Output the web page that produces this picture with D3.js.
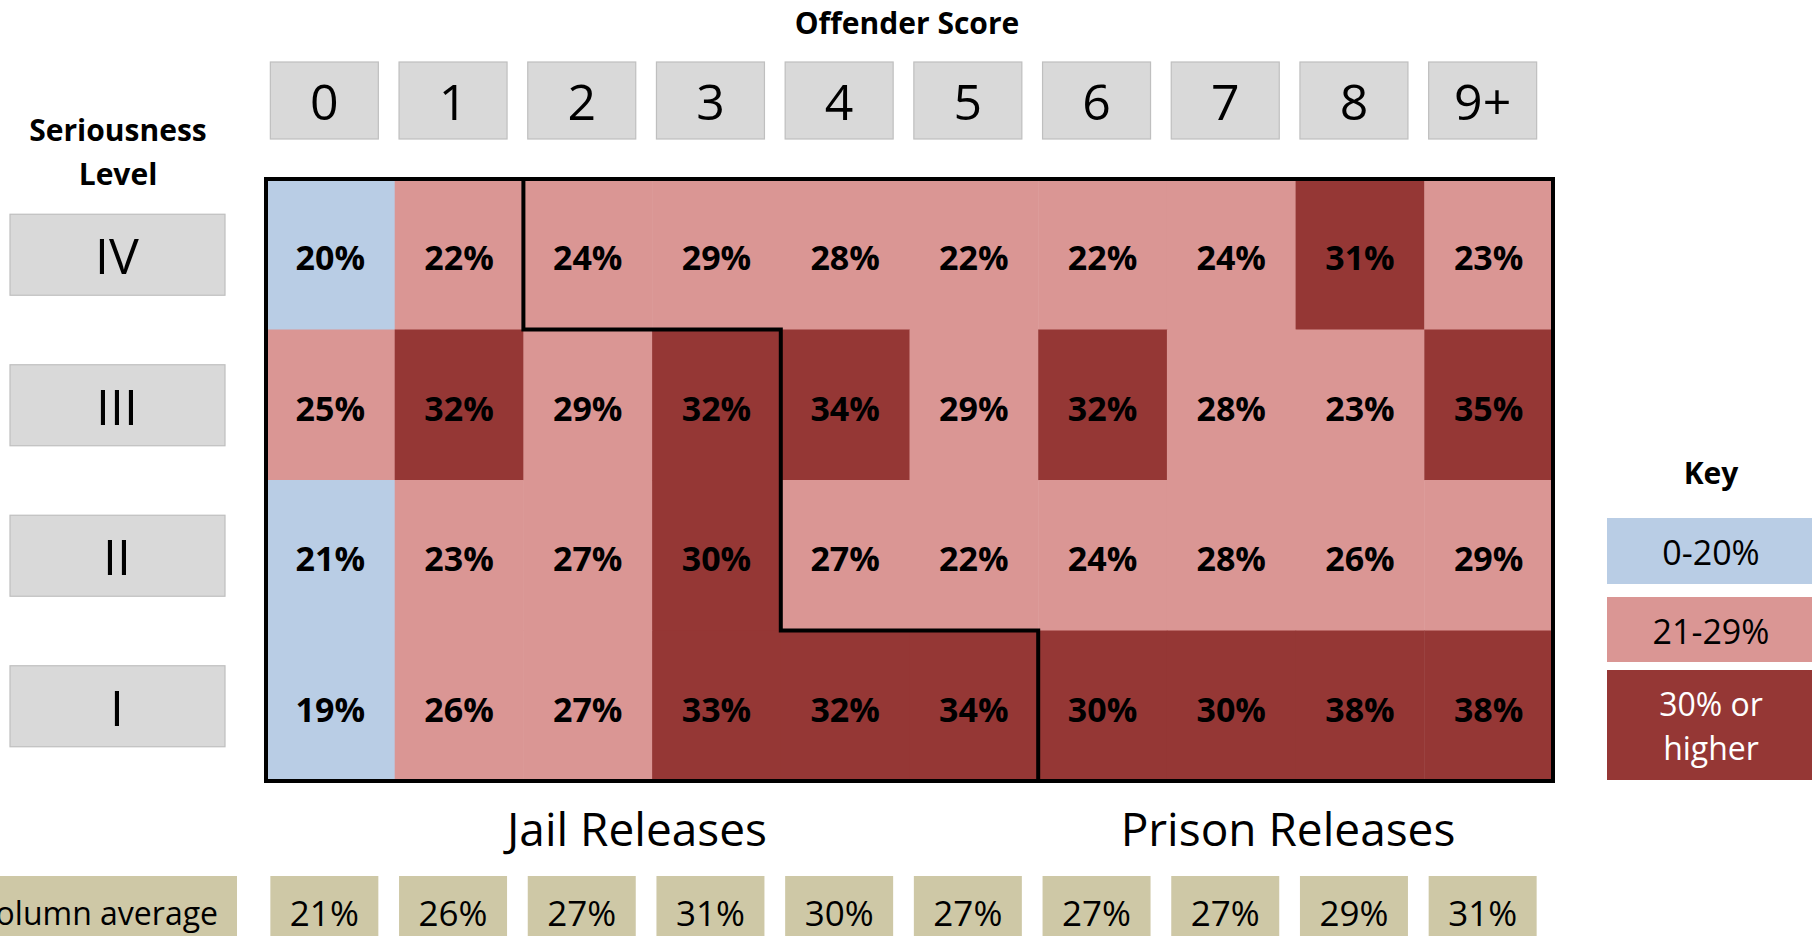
<!DOCTYPE html>
<html><head><meta charset="utf-8">
<script src="https://cdn.jsdelivr.net/npm/d3@7"></script>
<style>
html,body{margin:0;padding:0;background:#fff;overflow:hidden;}
svg{display:block;}
text{font-family:"Open Sans",sans-serif;}
</style></head>
<body>
<svg id="chart" width="1812" height="936"></svg>
<script>
// ---- data ----
const offenderScores = ["0","1","2","3","4","5","6","7","8","9+"];
const seriousnessLevels = ["IV","III","II","I"];
const rowIV  = [20,22,24,29,28,22,22,24,31,23];
const rowIII = [25,32,29,32,34,29,32,28,23,35];
const rowII  = [21,23,27,30,27,22,24,28,26,29];
const rowI   = [19,26,27,33,32,34,30,30,38,38];
// colour band of each cell as shown (0 = 0-20%, 1 = 21-29%, 2 = 30% or higher)
const bandIV  = [0,1,1,1,1,1,1,1,2,1];
const bandIII = [1,2,1,2,2,1,2,1,1,2];
const bandII  = [0,1,1,2,1,1,1,1,1,1];
const bandI   = [0,1,1,2,2,2,2,2,2,2];
const columnAverages = [21,26,27,31,30,27,27,27,29,31];
// last jail column index per seriousness level
const jailLastCol = [1,3,3,5];
const keyLabels = ["0-20%","21-29%","30% or higher"];
const keyColors = ["#B9CDE5","#DA9694","#953735"];

const values = [rowIV,rowIII,rowII,rowI];
const bands = [bandIV,bandIII,bandII,bandI];

const svg = d3.select("#chart");
const grid = {x0:266, x1:1553, y0:179, y1:781};

const x = d3.scaleBand().domain(offenderScores).range([grid.x0, grid.x1]);
const y = d3.scaleBand().domain(seriousnessLevels).range([grid.y0, grid.y1]);
const color = d3.scaleOrdinal().domain([0,1,2]).range(keyColors);

// title
svg.append("text").attr("x",907).attr("y",34).attr("text-anchor","middle")
  .attr("font-size",30).attr("font-weight","bold").text("Offender Score");

// header boxes
const hdr = svg.append("g");
const hw = 108, hh = 77;
offenderScores.forEach(s=>{
  const cx = x(s)+x.bandwidth()/2 - 6;
  hdr.append("rect").attr("x",cx-hw/2).attr("y",62).attr("width",hw).attr("height",hh)
    .attr("fill","#D9D9D9").attr("stroke","#BFBFBF").attr("stroke-width",1.2);
  hdr.append("text").attr("x",cx).attr("y",101).attr("text-anchor","middle")
    .attr("dominant-baseline","central").attr("font-size",50).attr("fill","#000").text(s);
});

// seriousness label
svg.append("text").attr("x",118).attr("y",141).attr("text-anchor","middle")
  .attr("font-size",30).attr("font-weight","bold").text("Seriousness");
svg.append("text").attr("x",118).attr("y",185).attr("text-anchor","middle")
  .attr("font-size",30).attr("font-weight","bold").text("Level");

// row label boxes
seriousnessLevels.forEach(r=>{
  const cy = y(r)+y.bandwidth()/2;
  svg.append("rect").attr("x",10).attr("y",cy-40).attr("width",215).attr("height",81)
    .attr("fill","#D9D9D9").attr("stroke","#BFBFBF").attr("stroke-width",1.2);
  svg.append("text").attr("x",117).attr("y",cy+1).attr("text-anchor","middle")
    .attr("dominant-baseline","central").attr("font-size",50).text(r);
});

// cells
const cells = [];
seriousnessLevels.forEach((r,i)=>offenderScores.forEach((c,j)=>{
  cells.push({r,c,v:values[i][j],b:bands[i][j]});
}));
const cg = svg.append("g");
cg.selectAll("rect").data(cells).join("rect")
  .attr("x",d=>x(d.c)).attr("y",d=>y(d.r))
  .attr("width",x.bandwidth()+0.5).attr("height",y.bandwidth()+0.5)
  .attr("fill",d=>color(d.b));
cg.selectAll("text").data(cells).join("text")
  .attr("x",d=>x(d.c)+x.bandwidth()/2).attr("y",d=>y(d.r)+y.bandwidth()/2+3)
  .attr("text-anchor","middle").attr("dominant-baseline","central")
  .attr("font-size",34).attr("font-weight","bold").attr("fill","#000")
  .text(d=>d.v+"%");

// outer border
svg.append("rect").attr("x",grid.x0).attr("y",grid.y0)
  .attr("width",grid.x1-grid.x0).attr("height",grid.y1-grid.y0)
  .attr("fill","none").attr("stroke","#000").attr("stroke-width",4);

// jail / prison divider
const pts = [];
seriousnessLevels.forEach((r,i)=>{
  const xe = x(offenderScores[jailLastCol[i]+1]);
  pts.push([xe, y(r)]);
  pts.push([xe, y(r)+y.bandwidth()]);
});
svg.append("path").attr("d",d3.line()(pts)).attr("fill","none")
  .attr("stroke","#000").attr("stroke-width",4).attr("stroke-linejoin","miter");

// section labels
svg.append("text").attr("x",637).attr("y",846).attr("text-anchor","middle")
  .attr("font-size",46).text("Jail Releases");
svg.append("text").attr("x",1288).attr("y",846).attr("text-anchor","middle")
  .attr("font-size",46).text("Prison Releases");

// column averages
svg.append("rect").attr("x",-20).attr("y",876).attr("width",257).attr("height",70).attr("fill","#CEC8A6");
svg.append("text").attr("x",218).attr("y",912).attr("text-anchor","end")
  .attr("dominant-baseline","central").attr("font-size",32).text("Column average");
offenderScores.forEach((s,j)=>{
  const cx = x(s)+x.bandwidth()/2 - 6;
  svg.append("rect").attr("x",cx-54).attr("y",876).attr("width",108).attr("height",70).attr("fill","#CEC8A6");
  svg.append("text").attr("x",cx).attr("y",912).attr("text-anchor","middle")
    .attr("dominant-baseline","central").attr("font-size",35).text(columnAverages[j]+"%");
});

// key
svg.append("text").attr("x",1711).attr("y",484).attr("text-anchor","middle")
  .attr("font-size",30).attr("font-weight","bold").text("Key");
const keyY = [518,597,670], keyH = [66,65,110];
keyLabels.forEach((k,i)=>{
  svg.append("rect").attr("x",1607).attr("y",keyY[i]).attr("width",230).attr("height",keyH[i]).attr("fill",keyColors[i]);
  const cx = 1711, cy = keyY[i]+keyH[i]/2;
  if(i<2){
    svg.append("text").attr("x",cx).attr("y",cy+1).attr("text-anchor","middle")
      .attr("dominant-baseline","central").attr("font-size",34).text(k);
  } else {
    svg.append("text").attr("x",cx).attr("y",cy-22).attr("text-anchor","middle")
      .attr("dominant-baseline","central").attr("font-size",32).attr("fill","#fff").text("30% or");
    svg.append("text").attr("x",cx).attr("y",cy+22).attr("text-anchor","middle")
      .attr("dominant-baseline","central").attr("font-size",32).attr("fill","#fff").text("higher");
  }
});
</script>
</body></html>
